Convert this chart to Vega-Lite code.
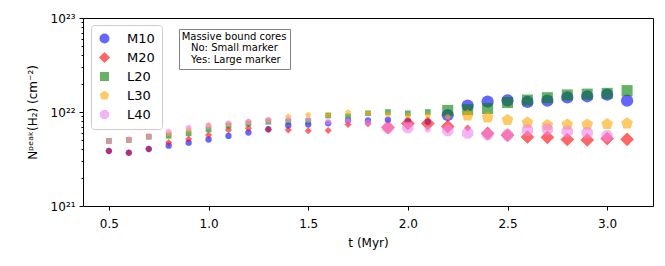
{
  "$schema": "https://vega.github.io/schema/vega-lite/v6.json",
  "autosize": {"type": "none"},
  "width": 570,
  "height": 188,
  "padding": {"left": 83, "top": 18, "right": 12, "bottom": 60},
  "background": "white",
  "config": {
    "view": {"stroke": "black", "strokeWidth": 1},
    "font": "DejaVu Sans",
    "axis": {"domain": false, "grid": false, "tickColor": "black", "labelColor": "black", "titleColor": "black", "labelFont": "DejaVu Sans", "titleFont": "DejaVu Sans", "titleFontWeight": "normal", "labelFontSize": 12, "titleFontSize": 12}
  },
  "data": {"values": [
    {"t":0.5,"run":"M10","N":3.85e21,"big":"No"},
    {"t":0.6,"run":"M10","N":3.69e21,"big":"No"},
    {"t":0.7,"run":"M10","N":4.04e21,"big":"No"},
    {"t":0.8,"run":"M10","N":4.38e21,"big":"No"},
    {"t":0.9,"run":"M10","N":4.72e21,"big":"No"},
    {"t":1.0,"run":"M10","N":5.10e21,"big":"No"},
    {"t":1.1,"run":"M10","N":5.56e21,"big":"No"},
    {"t":1.2,"run":"M10","N":6.05e21,"big":"No"},
    {"t":1.3,"run":"M10","N":6.55e21,"big":"No"},
    {"t":1.4,"run":"M10","N":7.18e21,"big":"No"},
    {"t":1.5,"run":"M10","N":7.36e21,"big":"No"},
    {"t":1.6,"run":"M10","N":7.58e21,"big":"No"},
    {"t":1.7,"run":"M10","N":8.12e21,"big":"No"},
    {"t":1.8,"run":"M10","N":8.12e21,"big":"No"},
    {"t":1.9,"run":"M10","N":8.22e21,"big":"No"},
    {"t":2.0,"run":"M10","N":8.10e21,"big":"No"},
    {"t":2.1,"run":"M10","N":7.88e21,"big":"No"},
    {"t":2.2,"run":"M10","N":9.29e21,"big":"Yes"},
    {"t":2.3,"run":"M10","N":1.17e22,"big":"Yes"},
    {"t":2.4,"run":"M10","N":1.29e22,"big":"Yes"},
    {"t":2.5,"run":"M10","N":1.33e22,"big":"Yes"},
    {"t":2.6,"run":"M10","N":1.28e22,"big":"Yes"},
    {"t":2.7,"run":"M10","N":1.32e22,"big":"Yes"},
    {"t":2.8,"run":"M10","N":1.43e22,"big":"Yes"},
    {"t":2.9,"run":"M10","N":1.47e22,"big":"Yes"},
    {"t":3.0,"run":"M10","N":1.53e22,"big":"Yes"},
    {"t":3.1,"run":"M10","N":1.32e22,"big":"Yes"},
    {"t":0.5,"run":"M20","N":3.85e21,"big":"No"},
    {"t":0.6,"run":"M20","N":3.69e21,"big":"No"},
    {"t":0.7,"run":"M20","N":4.04e21,"big":"No"},
    {"t":0.8,"run":"M20","N":4.74e21,"big":"No"},
    {"t":0.9,"run":"M20","N":5.16e21,"big":"No"},
    {"t":1.0,"run":"M20","N":5.69e21,"big":"No"},
    {"t":1.1,"run":"M20","N":6.43e21,"big":"No"},
    {"t":1.2,"run":"M20","N":6.71e21,"big":"No"},
    {"t":1.3,"run":"M20","N":6.51e21,"big":"No"},
    {"t":1.4,"run":"M20","N":6.43e21,"big":"No"},
    {"t":1.5,"run":"M20","N":6.32e21,"big":"No"},
    {"t":1.6,"run":"M20","N":6.35e21,"big":"No"},
    {"t":1.7,"run":"M20","N":7.36e21,"big":"No"},
    {"t":1.8,"run":"M20","N":7.49e21,"big":"No"},
    {"t":1.9,"run":"M20","N":6.84e21,"big":"Yes"},
    {"t":2.0,"run":"M20","N":7.55e21,"big":"Yes"},
    {"t":2.1,"run":"M20","N":7.55e21,"big":"Yes"},
    {"t":2.2,"run":"M20","N":7.01e21,"big":"Yes"},
    {"t":2.3,"run":"M20","N":6.76e21,"big":"No"},
    {"t":2.4,"run":"M20","N":5.91e21,"big":"Yes"},
    {"t":2.5,"run":"M20","N":5.69e21,"big":"Yes"},
    {"t":2.6,"run":"M20","N":5.42e21,"big":"Yes"},
    {"t":2.7,"run":"M20","N":5.38e21,"big":"Yes"},
    {"t":2.8,"run":"M20","N":5.10e21,"big":"Yes"},
    {"t":2.9,"run":"M20","N":5.04e21,"big":"Yes"},
    {"t":3.0,"run":"M20","N":5.22e21,"big":"Yes"},
    {"t":3.1,"run":"M20","N":5.12e21,"big":"Yes"},
    {"t":0.5,"run":"L20","N":4.92e21,"big":"No"},
    {"t":0.6,"run":"L20","N":5.04e21,"big":"No"},
    {"t":0.7,"run":"L20","N":5.46e21,"big":"No"},
    {"t":0.8,"run":"L20","N":5.58e21,"big":"No"},
    {"t":0.9,"run":"L20","N":5.93e21,"big":"No"},
    {"t":1.0,"run":"L20","N":6.51e21,"big":"No"},
    {"t":1.1,"run":"L20","N":7.13e21,"big":"No"},
    {"t":1.2,"run":"L20","N":7.51e21,"big":"No"},
    {"t":1.3,"run":"L20","N":7.88e21,"big":"No"},
    {"t":1.4,"run":"L20","N":7.92e21,"big":"No"},
    {"t":1.5,"run":"L20","N":8.02e21,"big":"No"},
    {"t":1.6,"run":"L20","N":9.18e21,"big":"No"},
    {"t":1.7,"run":"L20","N":9.00e21,"big":"No"},
    {"t":1.8,"run":"L20","N":9.69e21,"big":"No"},
    {"t":1.9,"run":"L20","N":1.00e22,"big":"No"},
    {"t":2.0,"run":"L20","N":9.69e21,"big":"No"},
    {"t":2.1,"run":"L20","N":1.00e22,"big":"No"},
    {"t":2.2,"run":"L20","N":1.04e22,"big":"Yes"},
    {"t":2.3,"run":"L20","N":1.06e22,"big":"Yes"},
    {"t":2.4,"run":"L20","N":1.09e22,"big":"Yes"},
    {"t":2.5,"run":"L20","N":1.26e22,"big":"Yes"},
    {"t":2.6,"run":"L20","N":1.34e22,"big":"Yes"},
    {"t":2.7,"run":"L20","N":1.42e22,"big":"Yes"},
    {"t":2.8,"run":"L20","N":1.52e22,"big":"Yes"},
    {"t":2.9,"run":"L20","N":1.55e22,"big":"Yes"},
    {"t":3.0,"run":"L20","N":1.58e22,"big":"Yes"},
    {"t":3.1,"run":"L20","N":1.69e22,"big":"Yes"},
    {"t":0.5,"run":"L30","N":4.92e21,"big":"No"},
    {"t":0.6,"run":"L30","N":5.04e21,"big":"No"},
    {"t":0.7,"run":"L30","N":5.46e21,"big":"No"},
    {"t":0.8,"run":"L30","N":5.91e21,"big":"No"},
    {"t":0.9,"run":"L30","N":6.43e21,"big":"No"},
    {"t":1.0,"run":"L30","N":7.27e21,"big":"No"},
    {"t":1.1,"run":"L30","N":7.45e21,"big":"No"},
    {"t":1.2,"run":"L30","N":7.88e21,"big":"No"},
    {"t":1.3,"run":"L30","N":8.22e21,"big":"No"},
    {"t":1.4,"run":"L30","N":8.91e21,"big":"No"},
    {"t":1.5,"run":"L30","N":9.29e21,"big":"No"},
    {"t":1.6,"run":"L30","N":9.29e21,"big":"No"},
    {"t":1.7,"run":"L30","N":9.88e21,"big":"No"},
    {"t":1.8,"run":"L30","N":9.69e21,"big":"No"},
    {"t":1.9,"run":"L30","N":9.36e21,"big":"No"},
    {"t":2.0,"run":"L30","N":9.06e21,"big":"No"},
    {"t":2.1,"run":"L30","N":9.18e21,"big":"No"},
    {"t":2.2,"run":"L30","N":8.85e21,"big":"No"},
    {"t":2.3,"run":"L30","N":9.18e21,"big":"Yes"},
    {"t":2.4,"run":"L30","N":8.74e21,"big":"Yes"},
    {"t":2.5,"run":"L30","N":8.22e21,"big":"Yes"},
    {"t":2.6,"run":"L30","N":7.69e21,"big":"Yes"},
    {"t":2.7,"run":"L30","N":7.27e21,"big":"Yes"},
    {"t":2.8,"run":"L30","N":7.36e21,"big":"Yes"},
    {"t":2.9,"run":"L30","N":7.36e21,"big":"Yes"},
    {"t":3.0,"run":"L30","N":7.45e21,"big":"Yes"},
    {"t":3.1,"run":"L30","N":7.55e21,"big":"Yes"},
    {"t":0.5,"run":"L40","N":4.92e21,"big":"No"},
    {"t":0.6,"run":"L40","N":5.10e21,"big":"No"},
    {"t":0.7,"run":"L40","N":5.49e21,"big":"No"},
    {"t":0.8,"run":"L40","N":6.16e21,"big":"No"},
    {"t":0.9,"run":"L40","N":6.79e21,"big":"No"},
    {"t":1.0,"run":"L40","N":7.06e21,"big":"No"},
    {"t":1.1,"run":"L40","N":7.58e21,"big":"No"},
    {"t":1.2,"run":"L40","N":7.88e21,"big":"No"},
    {"t":1.3,"run":"L40","N":8.22e21,"big":"No"},
    {"t":1.4,"run":"L40","N":8.22e21,"big":"No"},
    {"t":1.5,"run":"L40","N":8.22e21,"big":"No"},
    {"t":1.6,"run":"L40","N":7.88e21,"big":"No"},
    {"t":1.7,"run":"L40","N":8.08e21,"big":"No"},
    {"t":1.8,"run":"L40","N":7.73e21,"big":"No"},
    {"t":1.9,"run":"L40","N":6.79e21,"big":"Yes"},
    {"t":2.0,"run":"L40","N":6.84e21,"big":"Yes"},
    {"t":2.1,"run":"L40","N":6.51e21,"big":"No"},
    {"t":2.2,"run":"L40","N":6.36e21,"big":"Yes"},
    {"t":2.3,"run":"L40","N":5.98e21,"big":"Yes"},
    {"t":2.4,"run":"L40","N":5.76e21,"big":"Yes"},
    {"t":2.5,"run":"L40","N":5.69e21,"big":"Yes"},
    {"t":2.6,"run":"L40","N":6.43e21,"big":"Yes"},
    {"t":2.7,"run":"L40","N":6.55e21,"big":"Yes"},
    {"t":2.8,"run":"L40","N":6.20e21,"big":"Yes"},
    {"t":2.9,"run":"L40","N":6.02e21,"big":"Yes"},
    {"t":3.0,"run":"L40","N":5.56e21,"big":"Yes"}
  ]},
  "mark": {"type": "point", "filled": true, "opacity": 0.6, "strokeWidth": 0},
  "encoding": {
    "x": {
      "field": "t", "type": "quantitative",
      "scale": {"domain": [0.37, 3.23], "nice": false, "zero": false},
      "axis": {"values": [0.5, 1.0, 1.5, 2.0, 2.5, 3.0], "format": ".1f", "tickSize": 4, "labelPadding": 8, "title": "t (Myr)", "titlePadding": 8}
    },
    "y": {
      "field": "N", "type": "quantitative",
      "scale": {"type": "log", "domain": [1e21, 1e23], "nice": false},
      "axis": {
        "values": [1e21, 2e21, 3e21, 4e21, 5e21, 6e21, 7e21, 8e21, 9e21, 1e22, 2e22, 3e22, 4e22, 5e22, 6e22, 7e22, 8e22, 9e22, 1e23],
        "labelExpr": "datum.value < 15e20 ? '10²¹' : (datum.value > 95e20 && datum.value < 105e20) ? '10²²' : datum.value > 95e21 ? '10²³' : ''",
        "tickSize": {"condition": {"test": "datum.value < 15e20 || (datum.value > 95e20 && datum.value < 105e20) || datum.value > 95e21", "value": 4}, "value": 2},
        "labelPadding": 4,
        "title": "Nᵖᵉᵃᵏ(H₂) (cm⁻²)",
        "titlePadding": 11
      }
    },
    "color": {
      "field": "run", "type": "nominal",
      "scale": {"domain": ["M10", "M20", "L20", "L30", "L40"], "range": ["#0000ff", "#ff0000", "#008000", "#ffa500", "#ee82ee"]},
      "legend": {
        "title": null, "orient": "none", "legendX": 8, "legendY": 7,
        "labelFontSize": 13, "labelFont": "DejaVu Sans", "labelColor": "black",
        "symbolSize": 100, "symbolStrokeWidth": 0,
        "rowPadding": 5, "padding": 7, "labelOffset": 16,
        "strokeColor": "#cccccc", "fillColor": "white", "cornerRadius": 3
      }
    },
    "shape": {
      "field": "run", "type": "nominal",
      "scale": {"domain": ["M10", "M20", "L20", "L30", "L40"], "range": [
        "circle",
        "M0,-1.12L1.12,0L0,1.12L-1.12,0Z",
        "M-0.9,-0.9L0.9,-0.9L0.9,0.9L-0.9,0.9Z",
        "M0,-1L0.951,-0.309L0.588,0.809L-0.588,0.809L-0.951,-0.309Z",
        "M0.924,0.383L0.383,0.924L-0.383,0.924L-0.924,0.383L-0.924,-0.383L-0.383,-0.924L0.383,-0.924L0.924,-0.383Z"
      ]}
    },
    "size": {
      "field": "big", "type": "nominal",
      "scale": {"domain": ["No", "Yes"], "range": [40, 150]},
      "legend": {
        "title": "Massive bound cores", "orient": "none", "legendX": 96, "legendY": 11,
        "titleFontWeight": "normal", "titleFontSize": 10, "titleFont": "DejaVu Sans", "titleColor": "black",
        "titleAnchor": "middle", "titleAlign": "center", "titlePadding": 1,
        "labelExpr": "datum.label == 'No' ? 'No: Small marker' : 'Yes: Large marker'",
        "labelFontSize": 10, "labelFont": "DejaVu Sans", "labelColor": "black",
        "symbolOpacity": 0, "symbolStrokeWidth": 0, "rowPadding": -2, "labelOffset": -10,
        "padding": 3, "strokeColor": "#808080", "fillColor": "white", "cornerRadius": 0,
        "encode": {"legend": {"update": {"strokeWidth": {"value": 1.5}}}}
      }
    }
  }
}
